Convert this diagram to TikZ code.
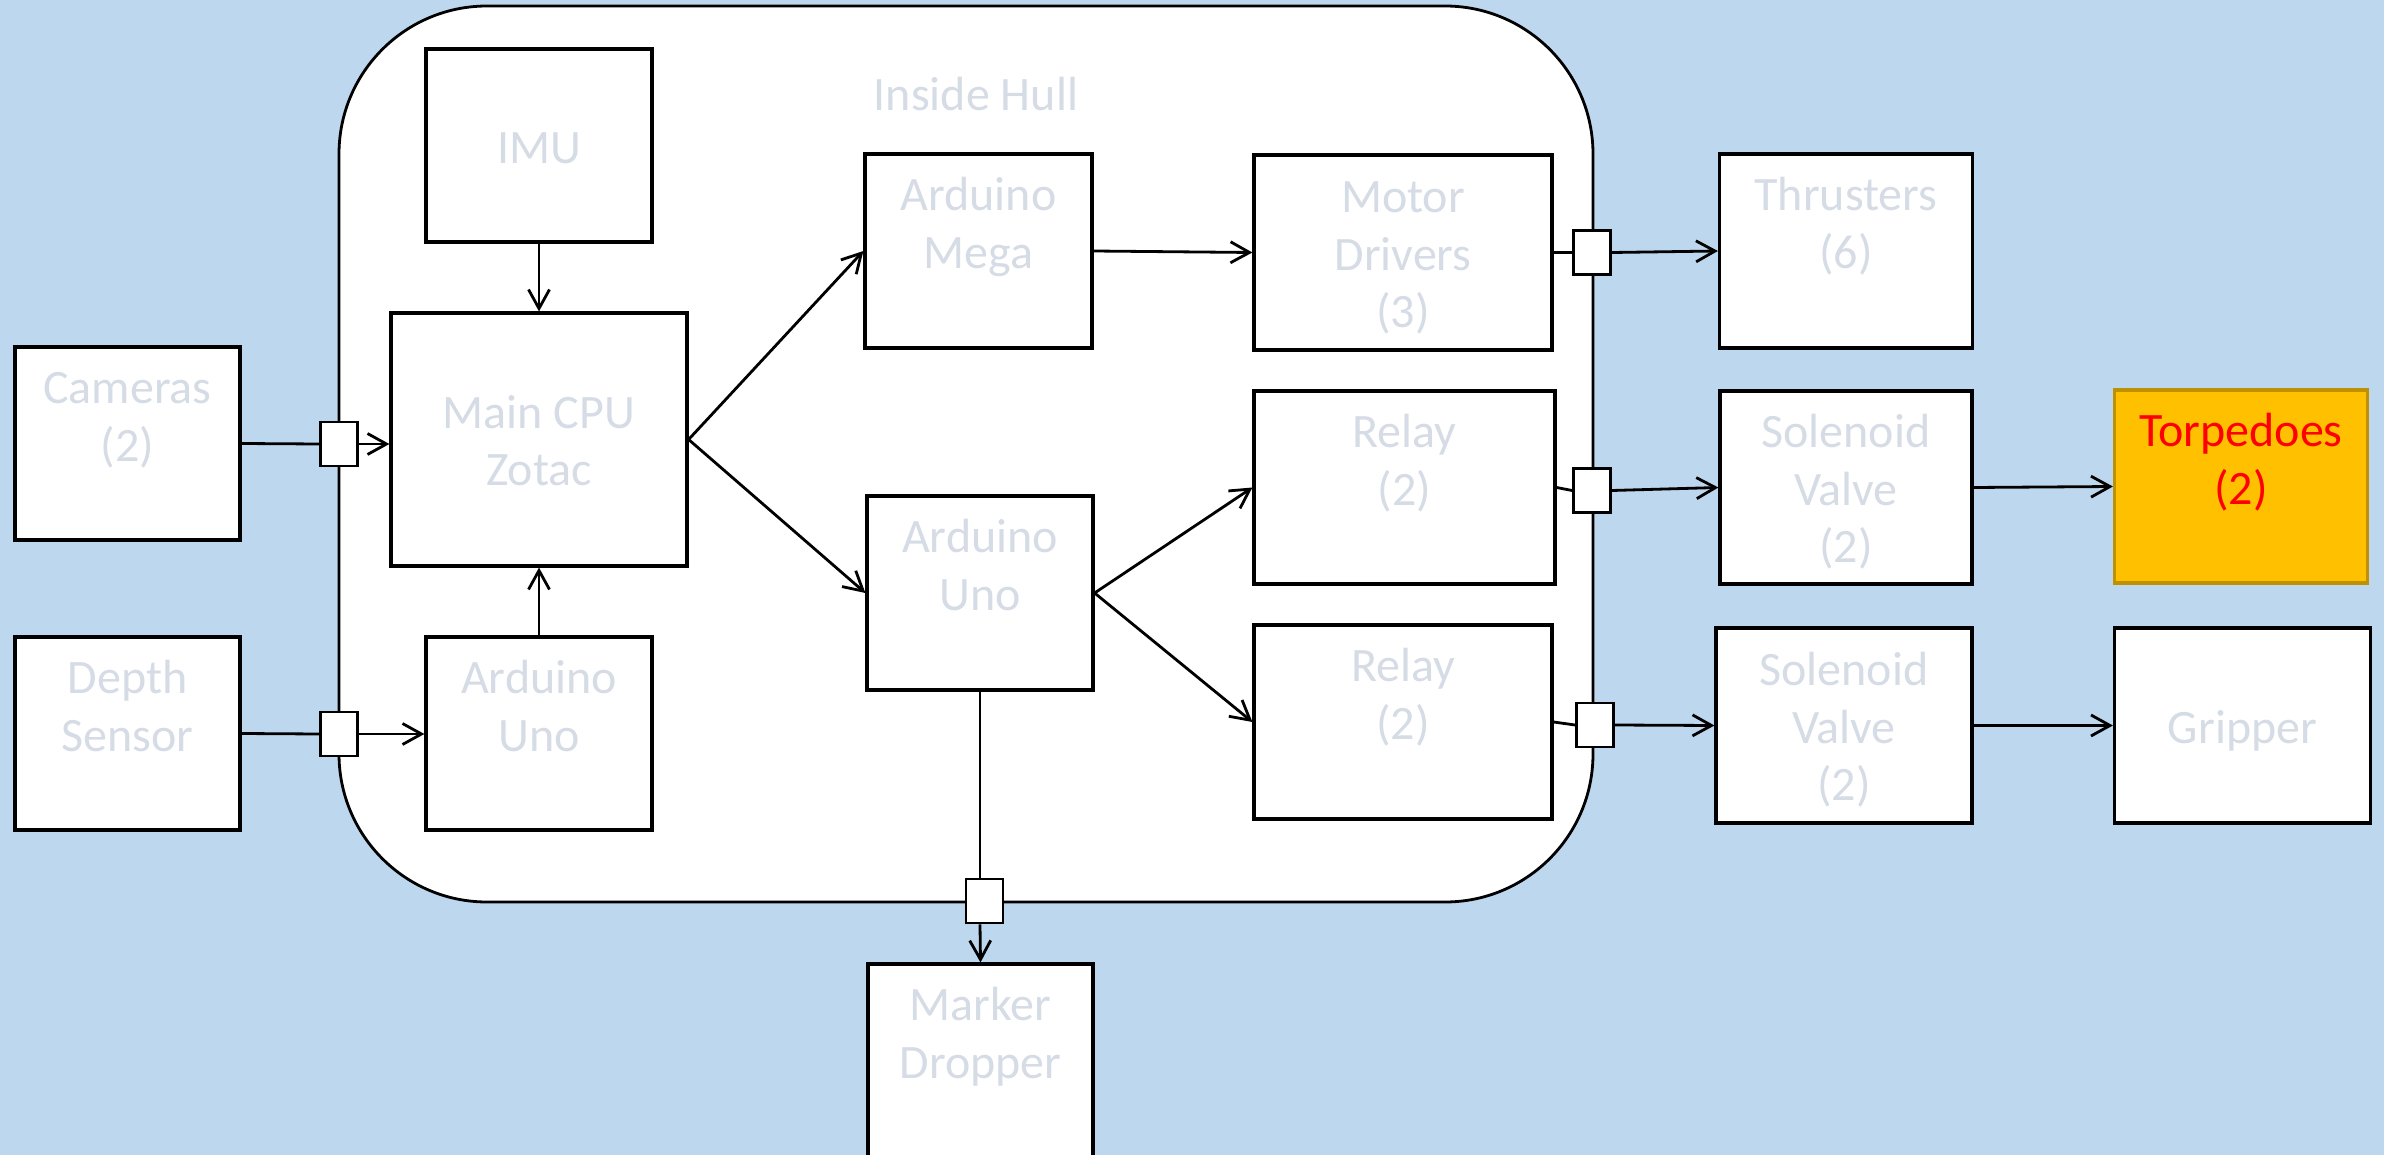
\documentclass[tikz,border=0pt]{standalone}
\usepackage{fontspec}
\setmainfont{Carlito}
\usetikzlibrary{arrows.meta}
\definecolor{bg}{HTML}{BDD7EE}
\definecolor{txt}{HTML}{D6DCE5}
\definecolor{torpfill}{HTML}{FFC000}
\definecolor{torpline}{HTML}{BF9000}
\newcommand{\ls}{\rule[-5.64pt]{0pt}{28.8pt}}
\begin{document}
\setlength{\lineskiplimit}{-20pt}
\begin{tikzpicture}[x=0.5pt,y=-0.5pt,
  sz/.style 2 args={minimum width={#1*0.5pt}, minimum height={#2*0.5pt}},
  box/.style={draw, rectangle, line width=1.6pt, fill=white, inner sep=0pt, align=center,
    text=txt, font=\fontsize{24pt}{28.8pt}\selectfont},
  conn/.style={draw, rectangle, line width=1.4pt, fill=white, inner sep=0pt,
    minimum width=18.5pt, minimum height=22pt},
  ln/.style={line width=1.4pt},
  arr/.style={line width=1.4pt, -{Straight Barb[length=9.5pt,width=10.5pt]}},
  hullstyle/.style={draw, rectangle, fill=white, line width=1.4pt, rounded corners=74pt,
    inner sep=0pt}
]
\fill[bg] (0,0) rectangle (2384,1155);
\useasboundingbox (0,0) rectangle (2384,1155);

% hull
\node[hullstyle, sz={1254}{896}] (hull) at (966,454) {};
\node[text=txt, font=\fontsize{24pt}{28.8pt}\selectfont] (hulllabel) at (976,94) {Inside Hull};

% boxes
\node[box, sz={225}{193}] (cam)   at (127.5,443.5) {\ls Cameras\\\ls (2)\\\ls};
\node[box, sz={225}{193}] (depth) at (127.5,733.5) {\ls Depth\\\ls Sensor\\\ls};
\node[box, sz={226}{193}] (imu)   at (539,145.5)   {\ls IMU};
\node[box, sz={296}{253}] (cpu)   at (539,439.5)   {\ls Main CPU\\\ls Zotac};
\node[box, sz={226}{193}] (unoL)  at (539,733.5)   {\ls Arduino\\\ls Uno\\\ls};
\node[box, sz={227}{194}] (mega)  at (978.5,251)   {\ls Arduino\\\ls Mega\\\ls};
\node[box, sz={226}{194}] (unoM)  at (980,593)     {\ls Arduino\\\ls Uno\\\ls};
\node[box, sz={298}{195}] (motor) at (1403,252.5)  {\ls Motor\\\ls Drivers\\\ls (3)};
\node[box, sz={301}{193}] (relayA) at (1404.5,487.5) {\ls Relay\\\ls (2)\\\ls};
\node[box, sz={298}{194}] (relayB) at (1403,722)   {\ls Relay\\\ls (2)\\\ls};
\node[box, sz={253}{194}] (thr)   at (1846,251)    {\ls Thrusters\\\ls (6)\\\ls};
\node[box, sz={252}{193}] (solA)  at (1846,487.5)  {\ls Solenoid\\\ls Valve\\\ls (2)};
\node[box, sz={256}{195}] (solB)  at (1844,725.5)  {\ls Solenoid\\\ls Valve\\\ls (2)};
\node[box, sz={253}{193}, fill=torpfill, draw=torpline, text=red] (torp) at (2241,486.5) {\ls Torpedoes\\\ls (2)\\\ls};
\node[box, sz={256}{195}] (grip)  at (2242.5,725.5) {\ls Gripper};
\node[box, sz={225}{194}] (marker) at (980.5,1061) {\ls Marker\\\ls Dropper\\\ls};

% connector squares
\node[conn] (sc)  at (339,444) {};
\node[conn] (sd)  at (339,734) {};
\node[conn] (sm)  at (1592,252.5) {};
\node[conn] (sra) at (1592,490.5) {};
\node[conn] (srb) at (1595,725) {};
\node[conn] (sk)  at (984.5,901) {};

% connectors
\draw[ln]  (cam.east) -- (sc.west);
\draw[arr] (sc.east) -- (sc.east -| cpu.west);
\draw[ln]  (depth.east) -- (sd.west);
\draw[arr] (sd.east) -- (sd.east -| unoL.west);
\draw[arr] (imu.south) -- (cpu.north);
\draw[arr] (unoL.north) -- (cpu.south);
\draw[arr] (cpu.east) -- (mega.west);
\draw[arr] (cpu.east) -- (unoM.west);
\draw[arr] (mega.east) -- (motor.west);
\draw[ln]  (motor.east) -- (sm.west);
\draw[arr] (sm.east) -- (thr.west);
\draw[arr] (unoM.east) -- (relayA.west);
\draw[arr] (unoM.east) -- (relayB.west);
\draw[ln]  (relayA.east) -- (sra.west);
\draw[arr] (sra.east) -- (solA.west);
\draw[ln]  (relayB.east) -- (srb.west);
\draw[arr] (srb.east) -- (solB.west);
\draw[arr] (solA.east) -- (torp.west);
\draw[arr] (solB.east) -- (grip.west);
\draw[ln]  (unoM.south) -- (unoM.south |- sk.north);
\draw[arr] (unoM.south |- sk.south) -- (marker.north);
\end{tikzpicture}
\end{document}
